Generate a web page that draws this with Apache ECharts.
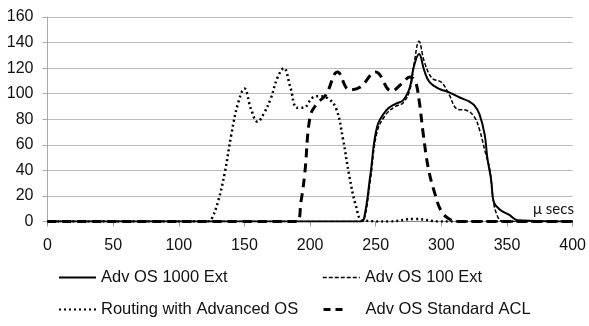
<!DOCTYPE html>
<html>
<head>
<meta charset="utf-8">
<script src="https://cdn.jsdelivr.net/npm/echarts@6/dist/echarts.min.js"></script>
<style>
  html, body { margin: 0; padding: 0; background: #fff; }
  #chart { width: 589px; height: 326px; }
</style>
</head>
<body>
<div id="chart"></div>
<script>
// 数据：横轴为微秒，纵轴为计数
const names = ["Adv OS 1000 Ext", "Adv OS 100 Ext", "Routing with Advanced OS", "Adv OS Standard ACL"];

const ext1000X = [0, 238, 241, 246, 251, 258, 265, 271, 276, 279, 283, 287, 291, 298, 306, 314, 321, 325, 329, 333, 335, 338, 340, 345, 352, 358, 400];
const ext1000Y = [0, 0, 2, 37, 74, 87, 92, 95, 105, 121, 131, 118, 109, 104, 101, 97, 94, 91, 84, 68, 50, 32, 15, 9, 5, 1, 0];

const ext100X = [0, 238, 241, 246, 251, 258, 265, 271, 276, 279, 283, 287, 293, 300, 306, 312, 319, 325, 329, 333, 337, 339, 342, 347, 400];
const ext100Y = [0, 0, 1, 33, 70, 84, 90, 93, 103, 122, 141, 125, 112, 109, 99, 88, 87, 82, 72, 56, 40, 21, 6, 0, 0];

const routingX = [0, 122, 125, 130, 135, 140, 145, 150, 155, 160, 165, 170, 175, 180, 185, 190, 195, 202, 207, 214, 220, 225, 230, 235, 240, 260, 280, 300, 400];
const routingY = [0, 0, 2, 16, 38, 68, 92, 104, 88, 78, 85, 96, 112, 120, 105, 89, 89, 97, 98, 96, 88, 65, 35, 12, 1, 0, 2, 0, 0];

const aclX = [0, 190, 193, 196, 200, 205, 212, 221, 230, 238, 250, 262, 270, 276, 280, 283, 286, 290, 295, 300, 306, 313, 400];
const aclY = [0, 0, 15, 38, 82, 92, 99, 117, 103, 105, 117, 102, 108, 113, 110, 95, 70, 42, 22, 8, 2, 0, 0];

const xTicks = [0, 50, 100, 150, 200, 250, 300, 350, 400];
const yTicks = [0, 20, 40, 60, 80, 100, 120, 140, 160];

const pairs = (xs, ys) => xs.map((x, i) => [x, ys[i]]);

const chart = echarts.init(document.getElementById("chart"));

const font = "'Liberation Sans', Arial, sans-serif";

// 每个图例单独定位，排成两行两列
const legendPos = [
  { left: 58, top: 269 },
  { left: 322, top: 269 },
  { left: 58, top: 301 },
  { left: 322, top: 301 },
];

const lineStyles = [
  { color: "#000", width: 2, type: "solid" },
  { color: "#000", width: 1.5, type: [4, 2] },
  { color: "#000", width: 2.5, type: [2, 3] },
  { color: "#000", width: 3, type: [9, 6] },
];

// 图例上的线型（ACL 只画两段短划）
const legendLines = [
  { color: "#000", width: 2, type: "solid" },
  { color: "#000", width: 1.5, type: [4, 2] },
  { color: "#000", width: 2, type: [2, 3] },
  { color: "#000", width: 3, type: [7, 5, 7, 30] },
];

const seriesData = [
  pairs(ext1000X, ext1000Y),
  pairs(ext100X, ext100Y),
  pairs(routingX, routingY),
  pairs(aclX, aclY),
];

const option = {
  animation: false,
  backgroundColor: "#fff",
  grid: { left: 47.5, right: 14, top: 17, bottom: 104.5 },
  legend: names.map((n, i) => ({
    data: [n],
    left: legendPos[i].left,
    top: legendPos[i].top,
    padding: 0,
    itemWidth: 37,
    itemHeight: 14,
    lineStyle: legendLines[i],
    itemStyle: { opacity: 0 },
    textStyle: { fontSize: 16.5, fontFamily: font, color: "#111" },
  })),
  xAxis: {
    type: "value",
    min: 0,
    max: 400,
    interval: 50,
    axisLine: { show: true, lineStyle: { color: "#888", width: 1 } },
    axisTick: { show: true, length: 5, lineStyle: { color: "#999" } },
    splitLine: { show: false },
    axisLabel: {
      margin: 16,
      fontSize: 16,
      fontFamily: font,
      color: "#111",
      formatter: (v) => (xTicks.includes(v) ? String(v) : ""),
    },
  },
  yAxis: {
    type: "value",
    min: 0,
    max: 160,
    interval: 20,
    axisLine: { show: true, lineStyle: { color: "#aaa", width: 1 } },
    axisTick: { show: true, length: 5, lineStyle: { color: "#aaa" } },
    splitLine: { show: true, lineStyle: { color: "#bbb", width: 1 } },
    axisLabel: {
      margin: 14,
      fontSize: 16,
      fontFamily: font,
      color: "#111",
      formatter: (v) => (yTicks.includes(v) ? String(v) : ""),
    },
  },
  graphic: [
    {
      type: "text",
      left: 533,
      top: 202,
      style: { text: "μ secs", fontSize: 15, fontFamily: "Lato, 'Open Sans', sans-serif", fill: "#111" },
    },
  ],
  series: names.map((n, i) => ({
    name: n,
    type: "line",
    data: seriesData[i],
    smooth: 0.4,
    showSymbol: false,
    symbol: "none",
    lineStyle: lineStyles[i],
    itemStyle: { color: "#000" },
    z: 10 - i,
  })),
};

chart.setOption(option);
</script>
</body>
</html>
